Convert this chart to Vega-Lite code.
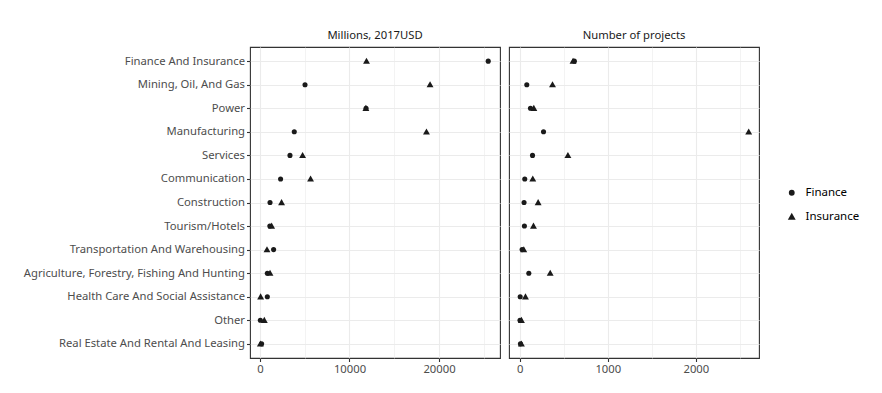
{
  "$schema": "https://vega.github.io/schema/vega-lite/v6.json",
  "background": "white",
  "padding": {"left": 22, "top": 29, "right": 5, "bottom": 5},
  "config": {
    "font": "Noto Sans",
    "view": {"stroke": "#333333", "strokeWidth": 1.1},
    "axis": {
      "labelFont": "Noto Sans",
      "labelFontSize": 11.25,
      "labelColor": "#4D4D4D",
      "labelLimit": 500,
      "tickColor": "#333333",
      "tickSize": 3.5,
      "tickWidth": 1.1,
      "labelPadding": 2,
      "domain": false,
      "title": null,
      "gridColor": "#EBEBEB"
    },
    "title": {"font": "Noto Sans", "fontSize": 11.25, "fontWeight": "normal", "color": "#1A1A1A", "offset": 6},
    "legend": {"labelFont": "Noto Sans", "labelFontSize": 11.5, "labelColor": "#000000", "labelOffset": 8},
    "concat": {"spacing": 7}
  },
  "data": {
    "values": [
      {"industry": "Finance And Insurance", "sector": "Finance", "measure": "Millions, 2017USD", "value": 25500},
      {"industry": "Finance And Insurance", "sector": "Insurance", "measure": "Millions, 2017USD", "value": 11900},
      {"industry": "Mining, Oil, And Gas", "sector": "Finance", "measure": "Millions, 2017USD", "value": 5030},
      {"industry": "Mining, Oil, And Gas", "sector": "Insurance", "measure": "Millions, 2017USD", "value": 19000},
      {"industry": "Power", "sector": "Finance", "measure": "Millions, 2017USD", "value": 11850},
      {"industry": "Power", "sector": "Insurance", "measure": "Millions, 2017USD", "value": 11830},
      {"industry": "Manufacturing", "sector": "Finance", "measure": "Millions, 2017USD", "value": 3830},
      {"industry": "Manufacturing", "sector": "Insurance", "measure": "Millions, 2017USD", "value": 18600},
      {"industry": "Services", "sector": "Finance", "measure": "Millions, 2017USD", "value": 3350},
      {"industry": "Services", "sector": "Insurance", "measure": "Millions, 2017USD", "value": 4760},
      {"industry": "Communication", "sector": "Finance", "measure": "Millions, 2017USD", "value": 2300},
      {"industry": "Communication", "sector": "Insurance", "measure": "Millions, 2017USD", "value": 5650},
      {"industry": "Construction", "sector": "Finance", "measure": "Millions, 2017USD", "value": 1120},
      {"industry": "Construction", "sector": "Insurance", "measure": "Millions, 2017USD", "value": 2410},
      {"industry": "Tourism/Hotels", "sector": "Finance", "measure": "Millions, 2017USD", "value": 1100},
      {"industry": "Tourism/Hotels", "sector": "Insurance", "measure": "Millions, 2017USD", "value": 1300},
      {"industry": "Transportation And Warehousing", "sector": "Finance", "measure": "Millions, 2017USD", "value": 1520},
      {"industry": "Transportation And Warehousing", "sector": "Insurance", "measure": "Millions, 2017USD", "value": 780},
      {"industry": "Agriculture, Forestry, Fishing And Hunting", "sector": "Finance", "measure": "Millions, 2017USD", "value": 820},
      {"industry": "Agriculture, Forestry, Fishing And Hunting", "sector": "Insurance", "measure": "Millions, 2017USD", "value": 1120},
      {"industry": "Health Care And Social Assistance", "sector": "Finance", "measure": "Millions, 2017USD", "value": 820},
      {"industry": "Health Care And Social Assistance", "sector": "Insurance", "measure": "Millions, 2017USD", "value": 70},
      {"industry": "Other", "sector": "Finance", "measure": "Millions, 2017USD", "value": 40},
      {"industry": "Other", "sector": "Insurance", "measure": "Millions, 2017USD", "value": 480},
      {"industry": "Real Estate And Rental And Leasing", "sector": "Finance", "measure": "Millions, 2017USD", "value": 180},
      {"industry": "Real Estate And Rental And Leasing", "sector": "Insurance", "measure": "Millions, 2017USD", "value": 40},
      {"industry": "Finance And Insurance", "sector": "Finance", "measure": "Number of projects", "value": 620},
      {"industry": "Finance And Insurance", "sector": "Insurance", "measure": "Number of projects", "value": 605},
      {"industry": "Mining, Oil, And Gas", "sector": "Finance", "measure": "Number of projects", "value": 80},
      {"industry": "Mining, Oil, And Gas", "sector": "Insurance", "measure": "Number of projects", "value": 372},
      {"industry": "Power", "sector": "Finance", "measure": "Number of projects", "value": 122},
      {"industry": "Power", "sector": "Insurance", "measure": "Number of projects", "value": 160},
      {"industry": "Manufacturing", "sector": "Finance", "measure": "Number of projects", "value": 270},
      {"industry": "Manufacturing", "sector": "Insurance", "measure": "Number of projects", "value": 2600},
      {"industry": "Services", "sector": "Finance", "measure": "Number of projects", "value": 145},
      {"industry": "Services", "sector": "Insurance", "measure": "Number of projects", "value": 547},
      {"industry": "Communication", "sector": "Finance", "measure": "Number of projects", "value": 57},
      {"industry": "Communication", "sector": "Insurance", "measure": "Number of projects", "value": 148},
      {"industry": "Construction", "sector": "Finance", "measure": "Number of projects", "value": 49},
      {"industry": "Construction", "sector": "Insurance", "measure": "Number of projects", "value": 209},
      {"industry": "Tourism/Hotels", "sector": "Finance", "measure": "Number of projects", "value": 53},
      {"industry": "Tourism/Hotels", "sector": "Insurance", "measure": "Number of projects", "value": 156},
      {"industry": "Transportation And Warehousing", "sector": "Finance", "measure": "Number of projects", "value": 27},
      {"industry": "Transportation And Warehousing", "sector": "Insurance", "measure": "Number of projects", "value": 46},
      {"industry": "Agriculture, Forestry, Fishing And Hunting", "sector": "Finance", "measure": "Number of projects", "value": 103},
      {"industry": "Agriculture, Forestry, Fishing And Hunting", "sector": "Insurance", "measure": "Number of projects", "value": 346},
      {"industry": "Health Care And Social Assistance", "sector": "Finance", "measure": "Number of projects", "value": 5},
      {"industry": "Health Care And Social Assistance", "sector": "Insurance", "measure": "Number of projects", "value": 65},
      {"industry": "Other", "sector": "Finance", "measure": "Number of projects", "value": 3},
      {"industry": "Other", "sector": "Insurance", "measure": "Number of projects", "value": 19},
      {"industry": "Real Estate And Rental And Leasing", "sector": "Finance", "measure": "Number of projects", "value": 8},
      {"industry": "Real Estate And Rental And Leasing", "sector": "Insurance", "measure": "Number of projects", "value": 19}
    ]
  },
  "hconcat": [
    {
      "title": "Millions, 2017USD",
      "width": 250,
      "height": 311,
      "transform": [{"filter": "datum.measure === 'Millions, 2017USD'"}],
      "mark": {"type": "point", "filled": true, "opacity": 1, "size": 26, "color": "#1A1A1A"},
      "encoding": {
        "x": {
          "field": "value", "type": "quantitative",
          "scale": {"domain": [-1117, 26816], "nice": false, "zero": false},
          "axis": {
            "values": [0, 5000, 10000, 15000, 20000, 25000],
            "labelExpr": "datum.value % 10000 === 0 ? datum.label : ''",
            "format": "d",
            "tickOpacity": {"condition": {"test": "datum.value % 10000 === 0", "value": 1}, "value": 0},
            "gridWidth": {"condition": {"test": "datum.value % 10000 === 0", "value": 1.1}, "value": 0.6}
          }
        },
        "y": {
          "field": "industry", "type": "nominal",
          "sort": ["Finance And Insurance", "Mining, Oil, And Gas", "Power", "Manufacturing", "Services", "Communication", "Construction", "Tourism/Hotels", "Transportation And Warehousing", "Agriculture, Forestry, Fishing And Hunting", "Health Care And Social Assistance", "Other", "Real Estate And Rental And Leasing"],
          "scale": {"type": "point", "padding": 0.6},
          "axis": {"grid": true, "gridWidth": 1.1}
        },
        "shape": {
          "field": "sector", "type": "nominal",
          "scale": {"domain": ["Finance", "Insurance"], "range": ["circle", "M0,-1.35L1.35,1.05L-1.35,1.05Z"]},
          "legend": {"title": null, "orient": "none", "legendX": 536, "legendY": 140, "symbolSize": 34, "symbolFillColor": "#1A1A1A", "symbolStrokeWidth": 0, "rowPadding": 11}
        }
      }
    },
    {
      "title": "Number of projects",
      "width": 250,
      "height": 311,
      "transform": [{"filter": "datum.measure === 'Number of projects'"}],
      "mark": {"type": "point", "filled": true, "opacity": 1, "size": 26, "color": "#1A1A1A"},
      "encoding": {
        "x": {
          "field": "value", "type": "quantitative",
          "scale": {"domain": [-122, 2717], "nice": false, "zero": false},
          "axis": {
            "values": [0, 500, 1000, 1500, 2000, 2500],
            "labelExpr": "datum.value % 1000 === 0 ? datum.label : ''",
            "format": "d",
            "tickOpacity": {"condition": {"test": "datum.value % 1000 === 0", "value": 1}, "value": 0},
            "gridWidth": {"condition": {"test": "datum.value % 1000 === 0", "value": 1.1}, "value": 0.6}
          }
        },
        "y": {
          "field": "industry", "type": "nominal",
          "sort": ["Finance And Insurance", "Mining, Oil, And Gas", "Power", "Manufacturing", "Services", "Communication", "Construction", "Tourism/Hotels", "Transportation And Warehousing", "Agriculture, Forestry, Fishing And Hunting", "Health Care And Social Assistance", "Other", "Real Estate And Rental And Leasing"],
          "scale": {"type": "point", "padding": 0.6},
          "axis": {"labels": false, "ticks": false, "grid": true, "gridWidth": 1.1}
        },
        "shape": {
          "field": "sector", "type": "nominal",
          "scale": {"domain": ["Finance", "Insurance"], "range": ["circle", "M0,-1.35L1.35,1.05L-1.35,1.05Z"]}
        }
      }
    }
  ]
}
